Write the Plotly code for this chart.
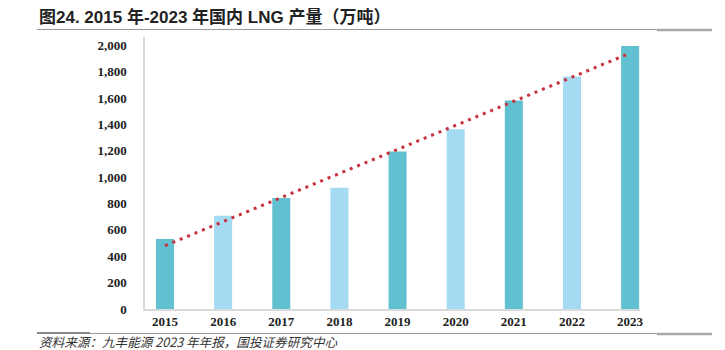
import numpy as np
import plotly.graph_objects as go

years = ["2015", "2016", "2017", "2018", "2019", "2020", "2021", "2022", "2023"]
production = [530, 707, 841, 919, 1195, 1364, 1581, 1763, 1995]
bar_colors = ["#62C1D0", "#A5DAF3", "#62C1D0", "#A5DAF3", "#62C1D0",
              "#A5DAF3", "#62C1D0", "#A5DAF3", "#62C1D0"]
y_ticks = [0, 200, 400, 600, 800, 1000, 1200, 1400, 1600, 1800, 2000]
y_ticktext = [f"{v:,}" for v in y_ticks]

title_text = "图24. 2015 年-2023 年国内 LNG 产量（万吨）"
source_text = "资料来源：九丰能源 2023 年年报，国投证券研究中心"

# linear trendline (Excel-style) fitted from the data
idx = np.arange(len(years))
slope, intercept = np.polyfit(idx, production, 1)
trend = list(intercept + slope * idx)

W, H = 725, 350
ML, MR, MT, MB = 145, 85, 37, 41
PW, PH = W - ML - MR, H - MT - MB


def px_x(px):
    return (px - ML) / PW


def px_y(py):
    return (H - MB - py) / PH


fig = go.Figure()
fig.add_trace(go.Bar(
    x=years, y=production, marker=dict(color=bar_colors, line=dict(width=0)),
    width=0.31, showlegend=False, hoverinfo="x+y",
))
fig.add_trace(go.Scatter(
    x=years, y=trend, mode="lines",
    line=dict(color="#C8323C", width=3, dash="3px,5px"),
    showlegend=False, hoverinfo="skip",
))

tick_font = dict(family="Liberation Serif, Times New Roman, serif", size=13,
                 color="#222222", weight="bold")

fig.update_layout(
    width=W, height=H,
    margin=dict(l=ML, r=MR, t=MT, b=MB, pad=0),
    paper_bgcolor="white", plot_bgcolor="white",
    xaxis=dict(
        type="category", range=[-0.344, 8.17],
        showgrid=False, zeroline=False, showline=True, linecolor="#D9D9D9",
        linewidth=1.5, ticks="", tickfont=tick_font, ticklabelstandoff=0,
    ),
    yaxis=dict(
        range=[0, 2063], tickvals=y_ticks, ticktext=y_ticktext,
        showgrid=False, zeroline=False, showline=True, linecolor="#D9D9D9",
        linewidth=1.5, ticks="", tickfont=tick_font, ticklabelstandoff=14,
    ),
    annotations=[
        dict(text=title_text, xref="paper", yref="paper",
             x=px_x(37), y=px_y(17), xanchor="left", yanchor="middle",
             showarrow=False,
             font=dict(family="Liberation Sans, Arial, Noto Sans CJK SC", size=17,
                       color="#222222", weight="bold")),
        dict(text=source_text, xref="paper", yref="paper",
             x=px_x(37), y=px_y(341), xanchor="left", yanchor="middle",
             showarrow=False,
             font=dict(family="Noto Sans CJK SC, Liberation Sans", size=12.6,
                       color="#333333", style="italic")),
    ],
    shapes=[
        dict(type="line", xref="paper", yref="paper", x0=px_x(37), x1=px_x(712),
             y0=px_y(29.5), y1=px_y(29.5), line=dict(color="#9A9A9A", width=1.2)),
        dict(type="line", xref="paper", yref="paper", x0=px_x(657), x1=px_x(712),
             y0=px_y(30), y1=px_y(30), line=dict(color="#A8A8A8", width=2.5)),
        dict(type="line", xref="paper", yref="paper", x0=px_x(37), x1=px_x(712),
             y0=px_y(333.5), y1=px_y(333.5), line=dict(color="#9A9A9A", width=1.2)),
        dict(type="line", xref="paper", yref="paper", x0=px_x(657), x1=px_x(712),
             y0=px_y(334), y1=px_y(334), line=dict(color="#A8A8A8", width=2.5)),
        dict(type="line", xref="paper", yref="paper", x0=px_x(37), x1=px_x(90),
             y0=px_y(333), y1=px_y(333), line=dict(color="#888888", width=2)),
    ],
)

fig.write_html("out.html")
